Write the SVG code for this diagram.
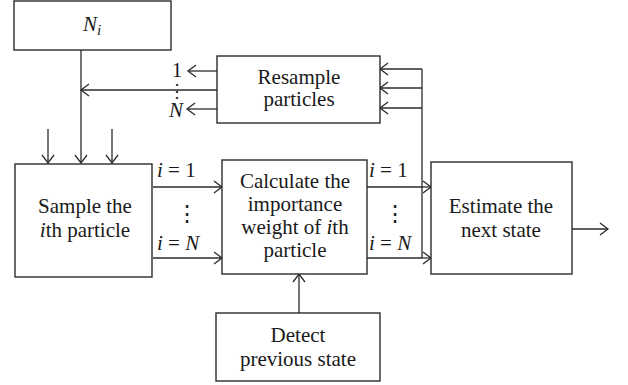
<svg xmlns="http://www.w3.org/2000/svg" width="628" height="385" viewBox="0 0 628 385">
<defs>
<marker id="ah" markerUnits="userSpaceOnUse" markerWidth="12" markerHeight="14" refX="9" refY="7" orient="auto">
<path d="M1,1 L9,7 L1,13" fill="none" stroke="#2b2b2b" stroke-width="1.3"/>
</marker>
<style>
.box{fill:#fff;stroke:#2b2b2b;stroke-width:1.4}
.ln{fill:none;stroke:#2b2b2b;stroke-width:1.3}
.ar{fill:none;stroke:#2b2b2b;stroke-width:1.3;marker-end:url(#ah)}
</style>
</defs>
<rect width="628" height="385" fill="#fff"/>
<g id="connectors">
<path class="ar" d="M81,50 V163"/>
<path class="ar" d="M48,129 V163"/>
<path class="ar" d="M112,129 V163"/>
<path class="ar" d="M217,90 H81"/>
<path class="ar" d="M217,71 H188"/>
<path class="ar" d="M217,109 H187"/>
<path class="ar" d="M153,187 H222"/>
<path class="ar" d="M153,258 H222"/>
<path class="ln" d="M367,187 H422 M367,258 H422"/>
<path class="ar" d="M422,187 H431"/>
<path class="ar" d="M422,258 H431"/>
<path class="ln" d="M422,258 V69"/>
<path class="ar" d="M422,69 H380"/>
<path class="ar" d="M422,88 H380"/>
<path class="ar" d="M422,108 H380"/>
<path class="ar" d="M572,229 H608"/>
<path class="ar" d="M299,313 V274"/>
</g>
<g id="labels" font-family="'Liberation Serif', 'Times New Roman', 'DejaVu Serif', serif" font-size="21" fill="#1a1a1a">
<text x="177" y="77" text-anchor="middle">1</text>
<text x="177" y="97" text-anchor="middle" font-family="'DejaVu Serif', serif" font-size="18">⋮</text>
<text x="176" y="117" text-anchor="middle" font-style="italic">N</text>
<text x="157" y="177"><tspan font-style="italic">i</tspan> = 1</text>
<text x="157" y="250"><tspan font-style="italic">i</tspan> = <tspan font-style="italic">N</tspan></text>
<text x="187" y="221" text-anchor="middle" font-family="'DejaVu Serif', serif" font-size="22">⋮</text>
<text x="369" y="177"><tspan font-style="italic">i</tspan> = 1</text>
<text x="369" y="250"><tspan font-style="italic">i</tspan> = <tspan font-style="italic">N</tspan></text>
<text x="395" y="221" text-anchor="middle" font-family="'DejaVu Serif', serif" font-size="22">⋮</text>
</g>
<g id="node-ni" font-family="'Liberation Serif', 'Times New Roman', 'DejaVu Serif', serif" font-size="21" fill="#1a1a1a" text-anchor="middle">
<rect class="box" x="14" y="1" width="157" height="49"/>
<text x="92" y="31" font-style="italic">N<tspan font-size="15" dy="4">i</tspan></text>
</g>
<g id="node-resample" font-family="'Liberation Serif', 'Times New Roman', 'DejaVu Serif', serif" font-size="21" fill="#1a1a1a" text-anchor="middle">
<rect class="box" x="217" y="56" width="163" height="67"/>
<text x="299" y="84">Resample</text>
<text x="299" y="106">particles</text>
</g>
<g id="node-sample" font-family="'Liberation Serif', 'Times New Roman', 'DejaVu Serif', serif" font-size="21" fill="#1a1a1a" text-anchor="middle">
<rect class="box" x="15" y="164" width="137" height="113"/>
<text x="85" y="213">Sample the</text>
<text x="85" y="237"><tspan font-style="italic">i</tspan>th particle</text>
</g>
<g id="node-calc" font-family="'Liberation Serif', 'Times New Roman', 'DejaVu Serif', serif" font-size="21" fill="#1a1a1a" text-anchor="middle">
<rect class="box" x="222" y="160" width="145" height="114"/>
<text x="295" y="188">Calculate the</text>
<text x="295" y="211">importance</text>
<text x="295" y="234">weight of <tspan font-style="italic">i</tspan>th</text>
<text x="295" y="257">particle</text>
</g>
<g id="node-estimate" font-family="'Liberation Serif', 'Times New Roman', 'DejaVu Serif', serif" font-size="21" fill="#1a1a1a" text-anchor="middle">
<rect class="box" x="431" y="162" width="141" height="112"/>
<text x="501" y="213">Estimate the</text>
<text x="501" y="237">next state</text>
</g>
<g id="node-detect" font-family="'Liberation Serif', 'Times New Roman', 'DejaVu Serif', serif" font-size="21" fill="#1a1a1a" text-anchor="middle">
<rect class="box" x="216" y="313" width="164" height="68"/>
<text x="298" y="342">Detect</text>
<text x="298" y="366">previous state</text>
</g>
</svg>
